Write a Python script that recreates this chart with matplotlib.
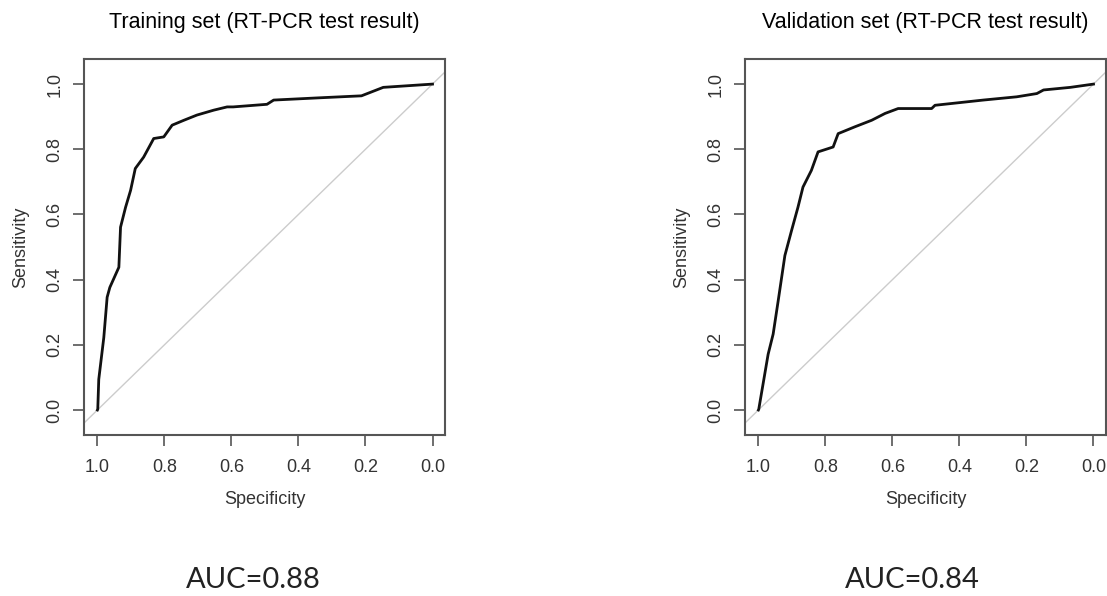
import matplotlib
matplotlib.use("Agg")
import matplotlib.pyplot as plt

plt.rcParams['font.family'] = ['Liberation Sans', 'DejaVu Sans']

# ROC curves (specificity, sensitivity)
train_spec = [1.0, 0.999, 0.996, 0.981, 0.971, 0.963, 0.936, 0.931, 0.916, 0.901,
              0.887, 0.862, 0.832, 0.802, 0.777, 0.742, 0.703, 0.653, 0.613, 0.595,
              0.494, 0.474, 0.336, 0.212, 0.182, 0.147, 0.0]
train_sens = [0.0, 0.002, 0.094, 0.222, 0.346, 0.376, 0.438, 0.561, 0.622, 0.674,
              0.741, 0.776, 0.833, 0.838, 0.874, 0.889, 0.905, 0.92, 0.93, 0.93,
              0.938, 0.951, 0.958, 0.964, 0.976, 0.99, 1.0]

valid_spec = [1.0, 0.999, 0.971, 0.956, 0.941, 0.921, 0.901, 0.882, 0.867, 0.842,
              0.822, 0.777, 0.762, 0.712, 0.662, 0.622, 0.583, 0.483, 0.473, 0.329,
              0.229, 0.169, 0.149, 0.069, 0.0]
valid_sens = [0.0, 0.002, 0.171, 0.233, 0.335, 0.474, 0.551, 0.622, 0.684, 0.735,
              0.792, 0.807, 0.848, 0.869, 0.889, 0.91, 0.925, 0.925, 0.935, 0.951,
              0.961, 0.971, 0.982, 0.99, 1.0]

titles = ["Training set (RT-PCR test result)", "Validation set (RT-PCR test result)"]
auc_labels = ["AUC=0.88", "AUC=0.84"]
ticks = [0.0, 0.2, 0.4, 0.6, 0.8, 1.0]

fig = plt.figure(figsize=(11.07, 5.96), dpi=100)
ax1 = fig.add_axes([0.0759, 0.27, 0.326, 0.631])
ax2 = fig.add_axes([0.673, 0.27, 0.326, 0.631])

curves = [(train_spec, train_sens), (valid_spec, valid_sens)]
auc_x = [253 / 1107, 912 / 1107]

for ax, (spec, sens), title, auc, ax_x in zip([ax1, ax2], curves, titles, auc_labels, auc_x):
    # diagonal reference line
    ax.plot([1.2, -0.2], [-0.2, 1.2], color='#cccccc', lw=1)
    ax.plot(spec, sens, color='#111111', lw=2)

    ax.set_xlim(1.04, -0.037)
    ax.set_ylim(-0.077, 1.077)
    ax.set_xticks(ticks)
    ax.set_yticks(ticks)
    ax.set_xticklabels([f"{t:.1f}" for t in ticks])
    ax.set_yticklabels([f"{t:.1f}" for t in ticks], rotation=90, va='center')
    ax.tick_params(length=8, width=1.2, color='#555555', labelcolor='#333333',
                   labelsize=13)
    ax.tick_params(axis='x', pad=9)
    ax.tick_params(axis='y', pad=7)
    for s in ax.spines.values():
        s.set_color('#555555')
        s.set_linewidth(1.5)

    ax.set_xlabel("Specificity", fontsize=13, color='#333333', labelpad=11)
    ax.set_ylabel("Sensitivity", fontsize=13, color='#333333', labelpad=12)
    ax.set_title(title, fontsize=15.5, pad=22)

    fig.text(ax_x, 1 - 580 / 596, auc, ha='center', va='center', fontsize=21,
             color='#222222', family=['Lato', 'DejaVu Sans'], fontweight='normal')

fig.savefig("out.png", dpi=100)
